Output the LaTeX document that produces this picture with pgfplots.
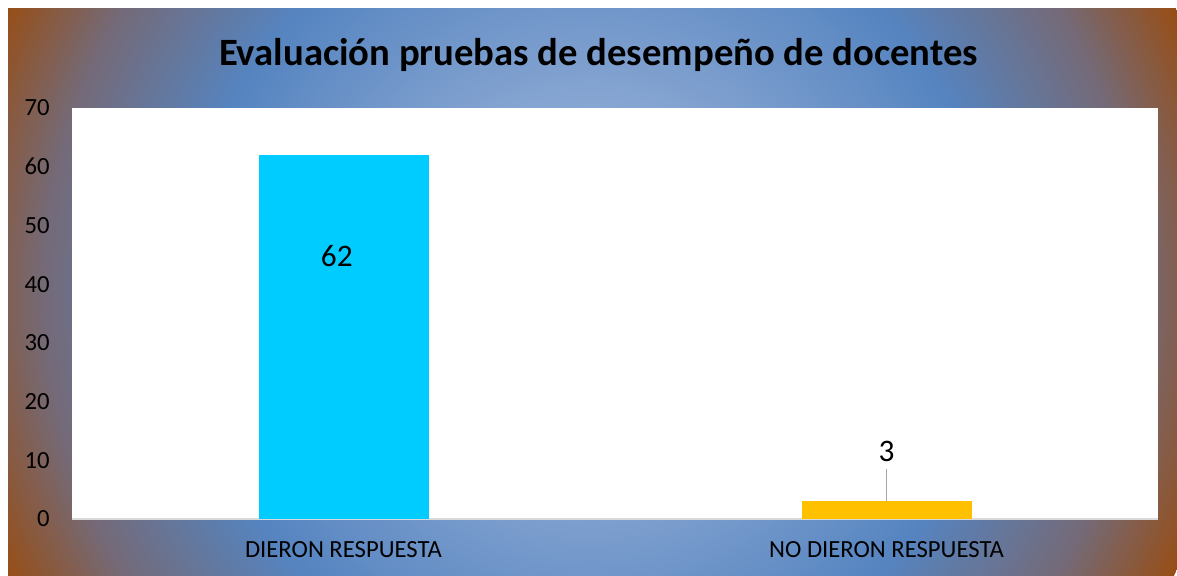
\documentclass[border=0pt]{standalone}
\usepackage{pgfplots}
\pgfplotsset{compat=1.18}
\usepackage{fontspec}
\setmainfont{Carlito}
\definecolor{bgc}{HTML}{9DBBE0}
\definecolor{bgm}{HTML}{8EAAD4}
\definecolor{bgb}{HTML}{5584C0}
\definecolor{bgg}{HTML}{746A78}
\definecolor{bgr}{HTML}{9C4A08}
\definecolor{barA}{HTML}{00CCFF}
\definecolor{barB}{HTML}{FFC000}
\pgfdeclareradialshading{bgshade}{\pgfpoint{0bp}{0bp}}{%
color(0bp)=(bgc); color(6bp)=(bgm); color(15.5bp)=(bgb); color(21bp)=(bgg); color(25.5bp)=(bgr); color(50bp)=(bgr)}
\begin{document}
\begin{tikzpicture}
\useasboundingbox (0pt,0pt) rectangle (882.75pt,431.25pt);
\fill[white] (0pt,0pt) rectangle (882.75pt,431.25pt);
\begin{scope}
\clip (6pt,0pt) rectangle (882.75pt,424.5pt);
\begin{pgfinterruptboundingbox}
\shade[shading=bgshade] (442.5pt,213.75pt) circle (487.5pt);
\end{pgfinterruptboundingbox}
\end{scope}
\node[anchor=base, font=\fontsize{29}{34}\selectfont\bfseries] at (448.9pt,382.1pt) {Evaluación pruebas de desempeño de docentes};
\begin{axis}[
  at={(54pt,42pt)}, anchor=south west,
  width=814.5pt, height=308.25pt, scale only axis,
  xmin=-0.5, xmax=1.5, ymin=0, ymax=70,
  ytick={0,10,...,70},
  xtick={0,1}, xticklabels={DIERON RESPUESTA, NO DIERON RESPUESTA},
  axis background/.style={fill=white},
  axis x line*=bottom, axis y line*=left,
  x axis line style={draw=black!15, line width=1.2pt, -},
  y axis line style={draw=none},
  major tick length=0pt,
  tick style={draw=none},
  tick label style={font=\fontsize{18.5}{22}\selectfont, inner sep=0pt},
  /pgf/number format/assume math mode=true,
  yticklabel style={anchor=east, xshift=-16.5pt},
  xticklabel style={anchor=base, yshift=-28.9pt},
  clip=false,
]
\addplot[ybar, bar width=127.5pt, bar shift=0pt, fill=barA, draw=none,
  nodes near coords, every node near coord/.append style={font=\fontsize{23.5}{28}\selectfont, anchor=base, yshift=-84pt, xshift=-5pt, text=black}]
  coordinates {(0,62)};
\addplot[ybar, bar width=127.5pt, bar shift=0pt, fill=barB, draw=none,
  nodes near coords, every node near coord/.append style={font=\fontsize{23.5}{28}\selectfont, anchor=base, yshift=30pt, text=black}]
  coordinates {(1,3)};
\draw[black!35, line width=1.2pt] (axis cs:1,3) -- (axis cs:1,8.5);
\end{axis}
\end{tikzpicture}
\end{document}
